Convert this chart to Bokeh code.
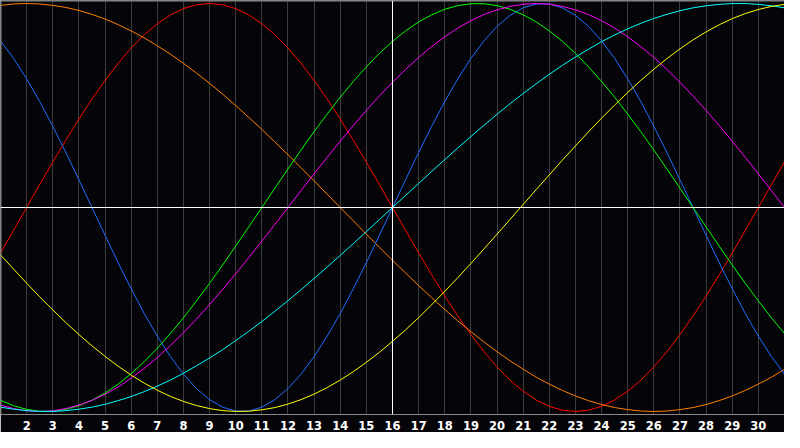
from bokeh.plotting import figure
from bokeh.models import FixedTicker, Span, Range1d
from bokeh.embed import file_html
from bokeh.resources import INLINE

# Days sampled (half-day steps) and tick labels
days = [1, 1.5, 2, 2.5, 3, 3.5, 4, 4.5, 5, 5.5, 6, 6.5, 7, 7.5, 8, 8.5, 9, 9.5, 10, 10.5,
        11, 11.5, 12, 12.5, 13, 13.5, 14, 14.5, 15, 15.5, 16, 16.5, 17, 17.5, 18, 18.5,
        19, 19.5, 20, 20.5, 21, 21.5, 22, 22.5, 23, 23.5, 24, 24.5, 25, 25.5, 26, 26.5,
        27, 27.5, 28, 28.5, 29, 29.5, 30, 30.5, 31]
tick_days = [2, 3, 4, 5, 6, 7, 8, 9, 10, 11, 12, 13, 14, 15, 16, 17, 18, 19, 20, 21,
             22, 23, 24, 25, 26, 27, 28, 29, 30]
today = 16
y_limit = 101.5

red = [-22.3, -11.2, 0, 11.2, 22.3, 33.0, 43.4, 53.2, 62.3, 70.7, 78.2, 84.7, 90.1, 94.4, 97.5, 99.4, 100,
       99.4, 97.5, 94.4, 90.1, 84.7, 78.2, 70.7, 62.3, 53.2, 43.4, 33.0, 22.3, 11.2, 0,
       -11.2, -22.3, -33.0, -43.4, -53.2, -62.3, -70.7, -78.2, -84.7, -90.1, -94.4, -97.5, -99.4, -100,
       -99.4, -97.5, -94.4, -90.1, -84.7, -78.2, -70.7, -62.3, -53.2, -43.4, -33.0, -22.3, -11.2, 0, 11.2, 22.3]
orange = [99.1, 99.8, 100, 99.8, 99.1, 98.1, 96.6, 94.7, 92.4, 89.7, 86.6, 83.2, 79.3, 75.2, 70.7, 65.9,
          60.9, 55.6, 50.0, 44.2, 38.3, 32.1, 25.9, 19.5, 13.1, 6.5, 0,
          -6.5, -13.1, -19.5, -25.9, -32.1, -38.3, -44.2, -50.0, -55.6, -60.9, -65.9, -70.7, -75.2, -79.3,
          -83.2, -86.6, -89.7, -92.4, -94.7, -96.6, -98.1, -99.1, -99.8, -100,
          -99.8, -99.1, -98.1, -96.6, -94.7, -92.4, -89.7, -86.6, -83.2, -79.3]
blue = [81.7, 73.1, 63.1, 52.0, 39.8, 27.0, 13.6, 0, -13.6, -27.0, -39.8, -52.0, -63.1, -73.1, -81.7,
        -88.8, -94.2, -97.9, -99.8, -99.8, -97.9, -94.2, -88.8, -81.7, -73.1, -63.1, -52.0, -39.8, -27.0, -13.6,
        0, 13.6, 27.0, 39.8, 52.0, 63.1, 73.1, 81.7, 88.8, 94.2, 97.9, 99.8, 99.8, 97.9, 94.2, 88.8,
        81.7, 73.1, 63.1, 52.0, 39.8, 27.0, 13.6, 0, -13.6, -27.0, -39.8, -52.0, -63.1, -73.1, -81.7]
green = [-94.5, -97.2, -99.0, -99.9, -99.9, -99.0, -97.2, -94.5, -91.0, -86.6, -81.5, -75.6, -69.0, -61.8,
         -54.1, -45.8, -37.2, -28.2, -18.9, -9.5,
         0, 9.5, 18.9, 28.2, 37.2, 45.8, 54.1, 61.8, 69.0, 75.6, 81.5, 86.6, 91.0, 94.5, 97.2, 99.0, 99.9,
         99.9, 99.0, 97.2, 94.5, 91.0, 86.6, 81.5, 75.6, 69.0, 61.8, 54.1, 45.8, 37.2, 28.2, 18.9, 9.5, 0,
         -9.5, -18.9, -28.2, -37.2, -45.8, -54.1, -61.8]
magenta = [-96.9, -98.6, -99.7, -100, -99.7, -98.6, -96.9, -94.6, -91.6, -88.0, -83.7, -78.9, -73.6, -67.7,
           -61.4, -54.7, -47.6, -40.2, -32.5, -24.6, -16.5, -8.3,
           0, 8.3, 16.5, 24.6, 32.5, 40.2, 47.6, 54.7, 61.4, 67.7, 73.6, 78.9, 83.7, 88.0, 91.6, 94.6, 96.9,
           98.6, 99.7, 100, 99.7, 98.6, 96.9, 94.6, 91.6, 88.0, 83.7, 78.9, 73.6, 67.7, 61.4, 54.7, 47.6,
           40.2, 32.5, 24.6, 16.5, 8.3, 0]
cyan = [-97.9, -98.9, -99.6, -100, -100, -99.6, -98.9, -97.9, -96.5, -94.7, -92.7, -90.3, -87.6, -84.6,
        -81.3, -77.6, -73.8, -69.7, -65.3, -60.7, -55.9, -50.9, -45.7, -40.3, -34.8, -29.2, -23.5, -17.7,
        -11.8, -5.9,
        0, 5.9, 11.8, 17.7, 23.5, 29.2, 34.8, 40.3, 45.7, 50.9, 55.9, 60.7, 65.3, 69.7, 73.8, 77.6, 81.3,
        84.6, 87.6, 90.3, 92.7, 94.7, 96.5, 97.9, 98.9, 99.6, 100, 100, 99.6, 98.9, 97.9]
yellow = [-23.2, -30.2, -37.1, -43.8, -50.2, -56.4, -62.3, -67.8, -73.0, -77.8, -82.2, -86.1, -89.6, -92.6,
          -95.1, -97.1, -98.6, -99.6, -100, -99.9, -99.2, -98.1, -96.4, -94.2, -91.5, -88.3, -84.6, -80.5,
          -75.9, -71.0, -65.6, -60.0, -54.0, -47.7, -41.1, -34.4, -27.4, -20.3, -13.1, -5.8, 1.5, 8.8,
          16.0, 23.2, 30.2, 37.1, 43.8, 50.2, 56.4, 62.3, 67.8, 73.0, 77.8, 82.2, 86.1, 89.6, 92.6, 95.1,
          97.1, 98.6, 99.6]

series = [
    (red, "#ff0000"),
    (orange, "#ff8000"),
    (blue, "#1e6eff"),
    (green, "#00ff00"),
    (magenta, "#ff00ff"),
    (cyan, "#00ffff"),
    (yellow, "#ffff00"),
]

BG = "#050408"
EDGE = "#8a8a8a"

p = figure(width=784, height=432, output_backend="svg", toolbar_location=None,
           x_range=Range1d(days[0], days[-1]), y_range=Range1d(-y_limit, y_limit),
           min_border_left=0, min_border_right=0, min_border_top=0, min_border_bottom=0)
p.background_fill_color = BG
p.border_fill_color = BG
p.outline_line_color = None

p.yaxis.visible = False
p.ygrid.visible = False

p.xaxis.ticker = FixedTicker(ticks=tick_days)
p.xgrid.ticker = FixedTicker(ticks=tick_days)
p.xgrid.grid_line_color = "#3c3c3c"
p.xgrid.grid_line_width = 1
p.xaxis.axis_line_color = EDGE
p.xaxis.major_tick_line_color = None
p.xaxis.minor_tick_line_color = None
p.xaxis.major_tick_in = 0
p.xaxis.major_tick_out = 0
p.xaxis.major_label_standoff = 6
p.xaxis.major_label_text_color = "#ffffff"
p.xaxis.major_label_text_font = "DejaVu Sans"
p.xaxis.major_label_text_font_style = "bold"
p.xaxis.major_label_text_font_size = "11.5px"

# frame edges on the left and top
p.add_layout(Span(location=days[0], dimension="height", line_color=EDGE, line_width=2))
p.add_layout(Span(location=y_limit, dimension="width", line_color=EDGE, line_width=2))

# centre cross
p.add_layout(Span(location=0, dimension="width", line_color="#ffffff", line_width=1))
p.add_layout(Span(location=today, dimension="height", line_color="#ffffff", line_width=1))

for vals, col in series:
    p.line(days, vals, line_color=col, line_width=1)

open("out.html", "w").write(file_html(p, INLINE))
